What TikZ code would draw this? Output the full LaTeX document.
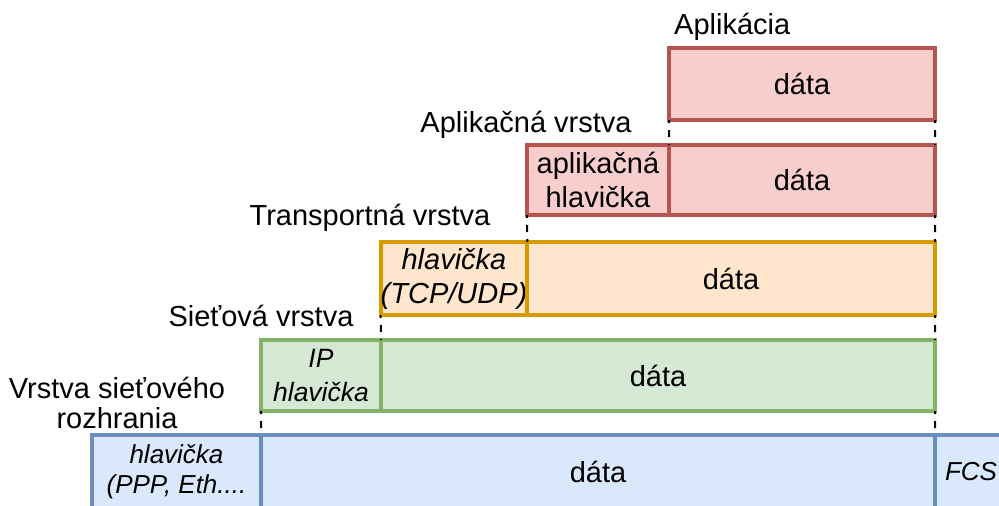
\documentclass[tikz,border=0pt]{standalone}
\usepackage{fontspec}
\setmainfont{Liberation Sans}
\definecolor{appfill}{HTML}{F8CECC}
\definecolor{appline}{HTML}{B85450}
\definecolor{trfill}{HTML}{FFE6CC}
\definecolor{trline}{HTML}{D79B00}
\definecolor{netfill}{HTML}{D5E8D4}
\definecolor{netline}{HTML}{82B366}
\definecolor{linkfill}{HTML}{DAE8FC}
\definecolor{linkline}{HTML}{6C8EBF}

\begin{document}
\begin{tikzpicture}[x=1pt,y=-1pt,%
        box/.style={draw, line width=4pt, inner sep=0pt, outer sep=0pt,%
                        align=center, font=\fontsize{29}{34}\selectfont},%
        appbox/.style={box, draw=appline, fill=appfill},%
        trbox/.style={box, draw=trline, fill=trfill},%
        netbox/.style={box, draw=netline, fill=netfill},%
        linkbox/.style={box, draw=linkline, fill=linkfill},%
        small/.style={font=\fontsize{26}{30}\selectfont\itshape},%
        lbl/.style={inner sep=0pt, align=center, font=\fontsize{29}{30}\selectfont},%
        cut/.style={line width=2pt, dash pattern=on 7pt off 7pt, dash phase=4pt}]
    \useasboundingbox (0,0) rectangle (999,506);
    \clip (0,0) rectangle (999,506);
    % aplikacia
    \node[appbox, minimum width=266, minimum height=72] (d1) at (802,84) {dáta};
    % aplikacna vrstva
    \node[appbox, minimum width=142, minimum height=70] (h2) at (598,180) {aplikačná\\hlavička};
    \node[appbox, minimum width=266, minimum height=70] (d2) at (802,180) {dáta};
    % transportna vrstva
    \node[trbox, minimum width=146, minimum height=73] (h3) at (454,278.5) {\itshape hlavička\\\itshape (TCP/UDP)};
    \node[trbox, minimum width=408, minimum height=73] (d3) at (731,278.5) {dáta};
    % sietova vrstva
    \node[netbox, minimum width=120, minimum height=71,%
          font=\fontsize{26.5}{34}\selectfont\itshape] (h4) at (321,375.5) {IP\\hlavička};
    \node[netbox, minimum width=554, minimum height=71] (d4) at (658,375.5) {dáta};
    % vrstva sietoveho rozhrania
    \node[linkbox, small, minimum width=169, minimum height=74] (h5) at (176.5,472) {hlavička\\(PPP, Eth....};
    \node[linkbox, minimum width=674, minimum height=74] (d5) at (598,472) {dáta};
    \node[linkbox, small, minimum width=110, minimum height=74, text width=90, align=left] (f5) at (990,472) {FCS};
    % popisy
    \node[lbl, anchor=west] (l1) at (674,27) {Aplikácia};
    \node[lbl] (l2) at (526,125) {Aplikačná vrstva};
    \node[lbl] (l3) at (370,218) {Transportná vrstva};
    \node[lbl] (l4) at (261,316) {Sieťová vrstva};
    \node[lbl] (l5) at (117,403) {Vrstva sieťového\\rozhrania};
    % ciary
    \draw[cut]
        (d1.south west) -- (d2.north west)
        (d1.south east) -- (d2.north east)
        (h2.south west) -- (h3.north east)
        (d2.south east) -- (d3.north east)
        (h3.south west) -- (d4.north west)
        (d3.south east) -- (d4.north east)
        (h4.south west) -- (h5.north east)
        (d4.south east) -- (d5.north east);
\end{tikzpicture}
\end{document}
